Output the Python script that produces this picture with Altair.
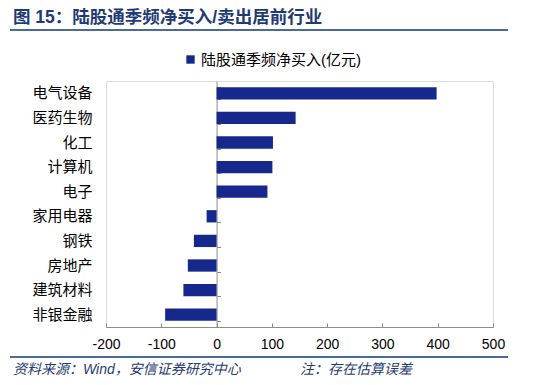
import altair as alt
import pandas as pd

industries = ["电气设备", "医药生物", "化工", "计算机", "电子",
              "家用电器", "钢铁", "房地产", "建筑材料", "非银金融"]
net_buy = [398, 143, 102, 101, 92, -18, -41, -52, -60, -93]
x_ticks = [-200, -100, 0, 100, 200, 300, 400, 500]
series_name = "陆股通季频净买入(亿元)"
title_text = "图 15：陆股通季频净买入/卖出居前行业"
source_text = "资料来源：Wind，安信证券研究中心"
note_text = "注：存在估算误差"

W, H = 387, 246
FONT = "Liberation Sans, Noto Sans CJK SC, sans-serif"
BAR = "#17288c"
AXIS_GREY = "#8c8c8c"
DARK_BLUE = "#1f3b73"

df = pd.DataFrame({"industry": industries, "value": net_buy, "series": series_name})

xscale = alt.Scale(domain=[-200, 500], nice=False, zero=False)
yscale = alt.Scale(domain=industries, paddingInner=0.5, paddingOuter=0.25)

bars = alt.Chart(df).mark_bar(color=BAR).encode(
    x=alt.X("value:Q", scale=xscale,
            axis=alt.Axis(title=None, values=x_ticks, domain=False, ticks=False, tickSize=0,
                          grid=False, labelPadding=10, labelFontSize=14, labelFont=FONT,
                          labelColor="#000", labelFlush=False, labelOverlap=False,
                          labelExpr="toString(datum.value)")),
    y=alt.Y("industry:N", scale=yscale, sort=industries,
            axis=alt.Axis(title=None, domain=False, ticks=False, tickSize=0, grid=False,
                          labelPadding=14, labelFontSize=15, labelFont=FONT,
                          labelColor="#000", labelLimit=200)),
    color=alt.Color("series:N", scale=alt.Scale(range=[BAR]),
                    legend=alt.Legend(title=None, orient="none", legendX=77, legendY=-29,
                                      symbolType="square", symbolSize=70, symbolStrokeWidth=0,
                                      labelFontSize=15, labelFont=FONT, labelColor="#000",
                                      labelOffset=3, padding=0)),
)

axes_layer = alt.Chart(df).mark_bar(opacity=0).encode(
    x=alt.X("value:Q", scale=xscale,
            axis=alt.Axis(orient="top", offset=-H, title=None, values=x_ticks, labels=False,
                          grid=False, tickSize=4, tickColor=AXIS_GREY, domainColor=AXIS_GREY)),
    y=alt.Y("industry:N", scale=yscale, sort=industries,
            axis=alt.Axis(orient="right", offset=-(W - W * 200 / 700), title=None,
                          labels=False, grid=False, tickBand="extent", tickSize=4,
                          tickColor=AXIS_GREY, domainColor=AXIS_GREY)),
)

title_df = pd.DataFrame({"t": [title_text]})
title_mark = alt.Chart(title_df).mark_text(
    align="left", baseline="middle", fontSize=17.5, fontWeight="bold", font=FONT, color=DARK_BLUE
).encode(x=alt.value(-93), y=alt.value(-63), text="t:N")

top_line = alt.Chart(title_df).mark_rule(color="#4a6a9a", strokeWidth=2).encode(
    x=alt.value(-96), x2=alt.value(402), y=alt.value(-51))
bottom_line = alt.Chart(title_df).mark_rule(color="#4a6a9a", strokeWidth=2).encode(
    x=alt.value(-96), x2=alt.value(402), y=alt.value(276))

src_df = pd.DataFrame({"t": [source_text]})
note_df = pd.DataFrame({"t": [note_text]})
src_mark = alt.Chart(src_df).mark_text(
    align="left", baseline="middle", fontSize=14, fontStyle="italic", font=FONT, color=DARK_BLUE
).encode(x=alt.value(-93), y=alt.value(289), text="t:N")
note_mark = alt.Chart(note_df).mark_text(
    align="left", baseline="middle", fontSize=14, fontStyle="italic", font=FONT, color=DARK_BLUE
).encode(x=alt.value(194), y=alt.value(289), text="t:N")

chart = alt.layer(bars, axes_layer, title_mark, top_line, bottom_line, src_mark, note_mark).resolve_axis(
    x="independent", y="independent"
).properties(
    width=W, height=H,
    autosize=alt.AutoSizeParams(type="none"),
    padding={"left": 98, "top": 73, "right": 49, "bottom": 50},
).configure_view(strokeWidth=0).configure(background="white")

chart.save("out.html", embed_options={"renderer": "svg", "actions": False})
